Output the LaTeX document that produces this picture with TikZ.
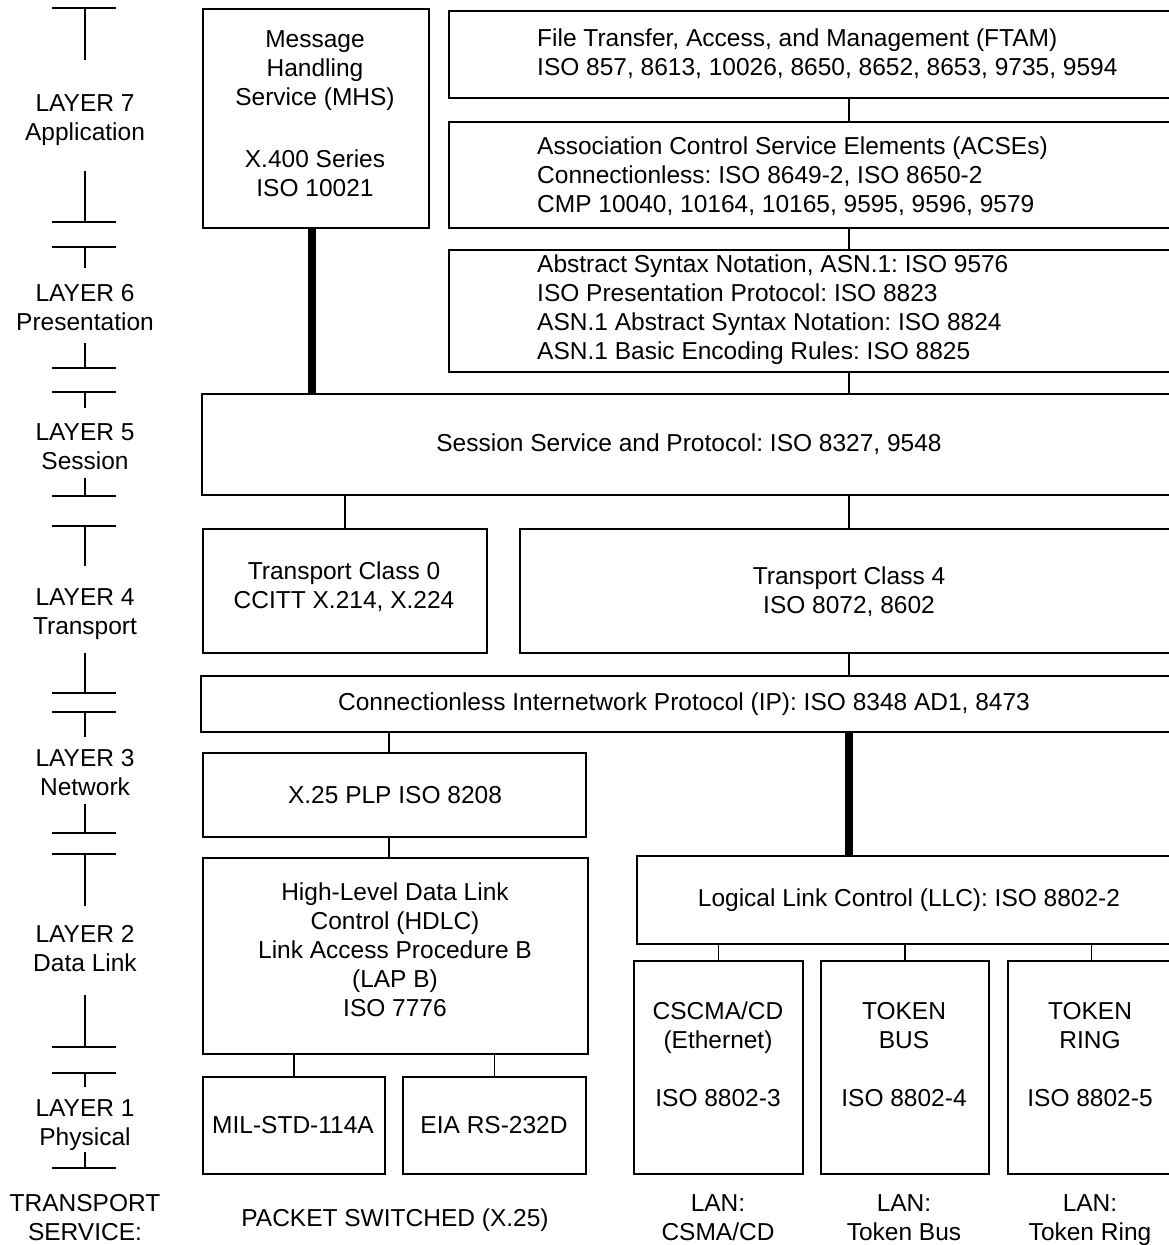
\documentclass[tikz,border=0pt]{standalone}
\usepackage{fontspec}
\setmainfont{Liberation Sans}
\frenchspacing
\begin{document}
\begin{tikzpicture}[x=1pt,y=-1pt,
  box/.style={draw, line width=1.8pt, anchor=north west, inner sep=0pt},
  txt/.style={align=center, inner sep=0pt, font=\fontsize{24.5}{29}\selectfont},
  ltxt/.style={align=left, anchor=west, inner sep=0pt, font=\fontsize{24.5}{29}\selectfont},
  link/.style={line width=1.8pt},
  trunk/.style={line width=8pt},
  tick/.style={line width=1.8pt}]
\clip (0,0) rectangle (1169,1245);
\fill[white] (0,0) rectangle (1169,1245);

% ---- layer brackets in the left column
\foreach \a/\b in {8/60, 247/268, 392/408, 526/566, 712/737, 854/906, 1073/1087}
  \draw[tick] (52,\a) -- (116,\a) (85,\a) -- (85,\b);
\foreach \a/\b in {171/222, 343/368, 478/496, 653/693, 804/833, 995/1047, 1152/1168}
  \draw[tick] (85,\a) -- (85,\b) (52,\b) -- (116,\b);

\node[txt] (l7) at (85,120) {LAYER 7\\Application};
\node[txt] (l6) at (85,307.5) {LAYER 6\\Presentation};
\node[txt] (l5) at (85,446.5) {LAYER 5\\Session};
\node[txt] (l4) at (85,614.5) {LAYER 4\\Transport};
\node[txt] (l3) at (85,772.5) {LAYER 3\\Network};
\node[txt] (l2) at (85,948.5) {LAYER 2\\Data Link};
\node[txt] (l1) at (85,1125.5) {LAYER 1\\Physical};
\node[txt] (ts) at (85,1217.5) {TRANSPORT\\SERVICE:};

% ---- protocol boxes
\node[box, minimum width=226pt, minimum height=219pt] (mhs) at (202,8) {};
\node[box, minimum width=732pt, minimum height=87pt] (ftam) at (448,10) {};
\node[box, minimum width=732pt, minimum height=106pt] (acse) at (448,121) {};
\node[box, minimum width=732pt, minimum height=122pt] (pres) at (448,249) {};
\node[box, minimum width=979pt, minimum height=101pt] (session) at (201,393) {};
\node[box, minimum width=284pt, minimum height=124pt] (tc0) at (202,528) {};
\node[box, minimum width=661pt, minimum height=124pt] (tc4) at (519,528) {};
\node[box, minimum width=972pt, minimum height=56pt] (ip) at (200,675) {};
\node[box, minimum width=383pt, minimum height=84pt] (x25) at (202,752) {};
\node[box, minimum width=385pt, minimum height=196pt] (hdlc) at (202,857) {};
\node[box, minimum width=182pt, minimum height=97pt] (mil) at (202,1076) {};
\node[box, minimum width=183pt, minimum height=97pt] (eia) at (402,1076) {};
\node[box, minimum width=544pt, minimum height=88pt] (llc) at (636,855) {};
\node[box, minimum width=169pt, minimum height=213pt] (csma) at (633,960) {};
\node[box, minimum width=168pt, minimum height=213pt] (tbus) at (820,960) {};
\node[box, minimum width=167pt, minimum height=213pt] (tring) at (1007,960) {};

% ---- box texts
\node[txt] (mhs-t) at (315,114) {Message\\Handling\\Service (MHS)\\[33pt]X.400 Series\\ISO 10021};
\node[ltxt] (ftam-t) at (537,53.5) {File Transfer, Access, and Management (FTAM)\\ISO 857, 8613, 10026, 8650, 8652, 8653, 9735, 9594};
\node[ltxt] (acse-t) at (537,176.5) {Association Control Service Elements (ACSEs)\\Connectionless: ISO 8649-2, ISO 8650-2\\CMP 10040, 10164, 10165, 9595, 9596, 9579};
\node[ltxt] (pres-t) at (537,310) {Abstract Syntax Notation, ASN.1: ISO 9576\\ISO Presentation Protocol: ISO 8823\\ASN.1 Abstract Syntax Notation: ISO 8824\\ASN.1 Basic Encoding Rules: ISO 8825};
\node[txt] (session-t) at (689,444.5) {Session Service and Protocol: ISO 8327, 9548};
\node[txt] (tc0-t) at (344,587) {Transport Class 0\\CCITT X.214, X.224};
\node[txt] (tc4-t) at (849,592) {Transport Class 4\\ISO 8072, 8602};
\node[txt] (ip-t) at (684,704.5) {Connectionless Internetwork Protocol (IP): ISO 8348 AD1, 8473};
\node[txt] (x25-t) at (395,795) {X.25 PLP ISO 8208};
\node[txt] (hdlc-t) at (395,950) {High-Level Data Link\\Control (HDLC)\\Link Access Procedure B\\(LAP B)\\ISO 7776};
\node[txt] (mil-t) at (293,1125) {MIL-STD-114A};
\node[txt] (eia-t) at (494,1125) {EIA RS-232D};
\node[txt] (llc-t) at (909,900.5) {Logical Link Control (LLC): ISO 8802-2};
\node[txt] (csma-t) at (718,1054.5) {CSCMA/CD\\(Ethernet)\\[29pt]ISO 8802-3};
\node[txt] (tbus-t) at (904,1054.5) {TOKEN\\BUS\\[29pt]ISO 8802-4};
\node[txt] (tring-t) at (1090,1054.5) {TOKEN\\RING\\[29pt]ISO 8802-5};

% ---- transport service captions
\node[txt] (pkt) at (395,1220) {PACKET SWITCHED (X.25)};
\node[txt] (lan1) at (718,1217.5) {LAN:\\CSMA/CD};
\node[txt] (lan2) at (904,1217.5) {LAN:\\Token Bus};
\node[txt] (lan3) at (1090,1220.5) {LAN:\\Token Ring};

% ---- connectors
\coordinate (spine) at (849,0);
\coordinate (xdrop) at (389,0);
\coordinate (mdrop) at (312,0);
\draw[link] (ftam.south -| spine) -- (acse.north -| spine);
\draw[link] (acse.south -| spine) -- (pres.north -| spine);
\draw[link] (pres.south -| spine) -- (session.north -| spine);
\draw[trunk] (mhs.south -| mdrop) -- (session.north -| mdrop);
\draw[link] (tc0.north) -- (tc0.north |- session.south);
\draw[link] (session.south -| spine) -- (tc4.north -| spine);
\draw[link] (tc4.south -| spine) -- (ip.north -| spine);
\draw[link] (ip.south -| xdrop) -- (x25.north -| xdrop);
\draw[link] (x25.south -| xdrop) -- (hdlc.north -| xdrop);
\draw[link] (mil.north) -- (mil.north |- hdlc.south);
\draw[link] (eia.north) -- (eia.north |- hdlc.south);
\draw[trunk] (ip.south -| spine) -- (llc.north -| spine);
\draw[link] (csma.north) -- (csma.north |- llc.south);
\draw[link] (tbus.north) -- (tbus.north |- llc.south);
\draw[link] (tring.north) -- (tring.north |- llc.south);
\end{tikzpicture}
\end{document}
